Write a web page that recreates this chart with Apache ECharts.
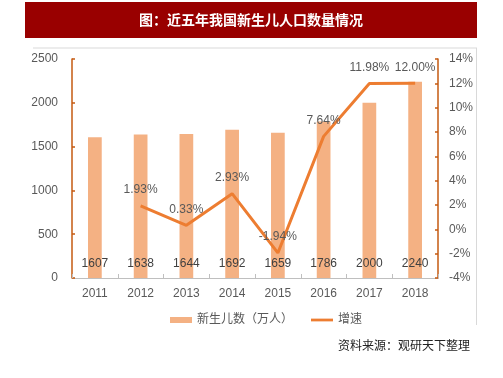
<!DOCTYPE html>
<html><head><meta charset="utf-8">
<script src="https://cdn.jsdelivr.net/npm/echarts@6/dist/echarts.min.js"></script>
<style>html,body{margin:0;padding:0;background:#fff}#c{width:503px;height:378px}</style>
</head><body><div id="c"></div>
<script>
var years = ['2011','2012','2013','2014','2015','2016','2017','2018'];
var births = [1607, 1638, 1644, 1692, 1659, 1786, 2000, 2240];
var growth = [null, 1.93, 0.33, 2.93, -1.94, 7.64, 11.98, 12.00];
var leftTicks = {min: 0, max: 2500, interval: 500};
var rightTicks = {min: -4, max: 14, interval: 2};

var FONT = "'Liberation Sans','Noto Sans CJK SC',sans-serif";
var chart = echarts.init(document.getElementById('c'));
chart.setOption({
  animation: false,
  textStyle: {fontFamily: FONT},
  grid: {left: 72, right: 65, top: 59, bottom: 100},
  legend: {
    bottom: 47, left: 165,
    itemGap: 18,
    textStyle: {color: '#595959', fontSize: 12, fontFamily: FONT},
    data: [
      {name: '新生儿数（万人）', icon: 'rect', itemStyle: {color: '#F4B183'}},
      {name: '增速', icon: 'path://M0,0h24v3h-24z', itemStyle: {color: '#ED7D31'}}
    ],
    itemWidth: 22, itemHeight: 6
  },
  xAxis: {
    type: 'category', data: years,
    axisLine: {lineStyle: {color: '#BFBFBF'}},
    axisTick: {show: true, inside: true, length: 4, lineStyle: {color: '#BFBFBF'}},
    axisLabel: {color: '#595959', fontSize: 12, margin: 10}
  },
  yAxis: [{
    type: 'value', min: leftTicks.min, max: leftTicks.max, interval: leftTicks.interval,
    axisLine: {show: true, lineStyle: {color: '#C55A11', width: 1.5}},
    axisTick: {show: true, inside: true, length: 3, lineStyle: {color: '#C55A11', width: 1.5}},
    splitLine: {show: false},
    axisLabel: {color: '#595959', fontSize: 12, margin: 14, formatter: function(v){ return String(v); }}
  }, {
    type: 'value', min: rightTicks.min, max: rightTicks.max, interval: rightTicks.interval,
    position: 'right',
    axisLine: {show: true, lineStyle: {color: '#C55A11', width: 1.5}},
    axisTick: {show: true, inside: true, length: 3, lineStyle: {color: '#C55A11', width: 1.5}},
    splitLine: {show: false},
    axisLabel: {color: '#595959', fontSize: 12, margin: 11, formatter: '{value}%'}
  }],
  series: [{
    name: '新生儿数（万人）', type: 'bar', data: births, barWidth: '30%',
    itemStyle: {color: '#F4B183'},
    label: {show: true, position: 'insideBottom', distance: 8, color: '#404040', fontSize: 12}
  }, {
    name: '增速', type: 'line', yAxisIndex: 1, data: growth,
    symbol: 'circle', symbolSize: 0.1, showSymbol: true, connectNulls: false,
    lineStyle: {color: '#ED7D31', width: 3},
    itemStyle: {color: '#ED7D31'},
    label: {show: true, position: 'top', distance: 10, color: '#595959', fontSize: 12,
      formatter: function(p){ return p.value == null ? '' : p.value.toFixed(2) + '%'; }}
  }],
  graphic: [
    {type: 'rect', shape: {x: 25, y: 2, width: 452, height: 36}, style: {fill: '#990000'}},
    {type: 'text', x: 251, y: 20, style: {text: '图：近五年我国新生儿人口数量情况', fill: '#fff',
      font: "bold 14px 'Noto Sans CJK SC',sans-serif", align: 'center', verticalAlign: 'middle'}},
    {type: 'line', shape: {x1: 33, y1: 48, x2: 477, y2: 48}, style: {stroke: '#D9D9D9', lineWidth: 1}},
    {type: 'line', shape: {x1: 476.5, y1: 48, x2: 476.5, y2: 325}, style: {stroke: '#D9D9D9', lineWidth: 1}},
    {type: 'text', x: 470, y: 345, style: {text: '资料来源：观研天下整理', fill: '#222',
      font: "12px 'Noto Sans CJK SC',sans-serif", align: 'right', verticalAlign: 'middle'}}
  ]
});
</script></body></html>
